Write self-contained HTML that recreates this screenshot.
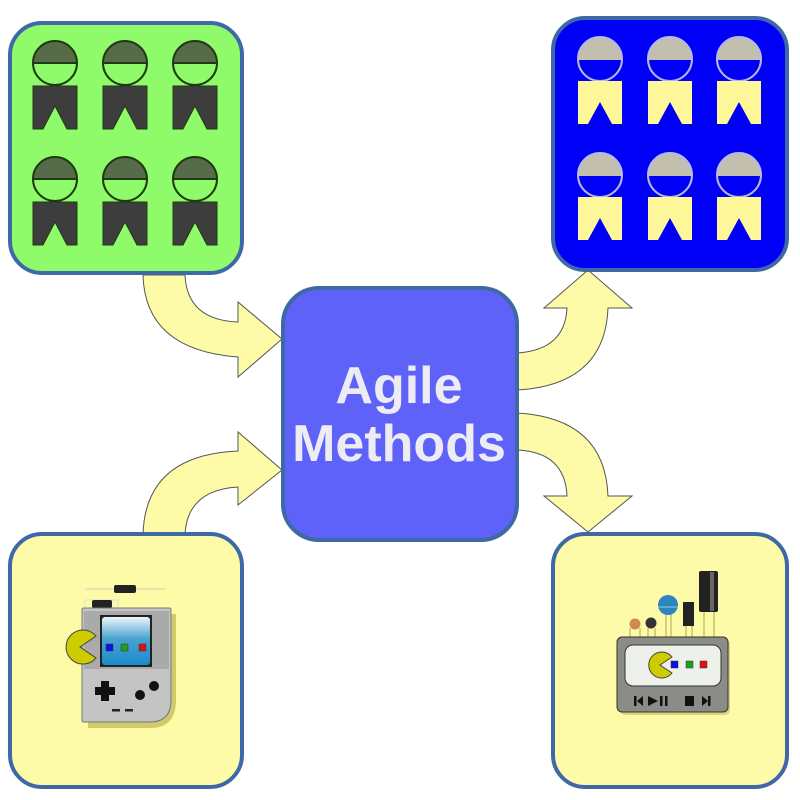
<!DOCTYPE html>
<html><head><style>html,body{margin:0;padding:0;background:#fff}svg{display:block}</style></head>
<body>
<svg width="800" height="800" viewBox="0 0 800 800" xmlns="http://www.w3.org/2000/svg">
<defs>
<g id="pg">
  <path d="M-22,0 A22,22 0 0 1 22,0 Z" fill="#566b48"/>
  <circle cx="0" cy="0" r="22" fill="none" stroke="#1e3a12" stroke-width="2"/>
  <line x1="-22" y1="0" x2="22" y2="0" stroke="#1e3a12" stroke-width="2"/>
  <path d="M-22,23 H22 V66 H12 L0,43 L-12,66 H-22 Z" fill="#3d3d3d" stroke="#1e3a12" stroke-width="1"/>
</g>
<g id="pb">
  <path d="M-22,0 A22,22 0 0 1 22,0 Z" fill="#c2bfae"/>
  <circle cx="0" cy="0" r="22" fill="none" stroke="#b8b8e8" stroke-width="2"/>
  <line x1="-22" y1="0" x2="22" y2="0" stroke="#c2bfae" stroke-width="2"/>
  <path d="M-22,22 H22 V65 H12 L0,43 L-12,65 H-22 Z" fill="#fdf79a"/>
</g>
<linearGradient id="scr" x1="0" y1="0" x2="0" y2="1"><stop offset="0" stop-color="#eef6fa"/><stop offset="0.45" stop-color="#4aa3d0"/><stop offset="1" stop-color="#1b8ccc"/></linearGradient>
</defs>

<g fill="#fdfaa8" stroke="#555" stroke-width="1">
  <path d="M143,275 Q145,350 238,357 V377 L282,339 L238,302 V322 Q187,320 185,275 Z"/>
  <path d="M143,535 Q145,455 238,451 V432 L282,470 L238,505 V487 Q187,490 185,535 Z"/>
  <path d="M517,390 Q605,385 608,308 H632 L588,270 L544,308 H567 Q565,350 517,353 Z"/>
  <path d="M517,413 Q605,418 608,496 H632 L588,532 L544,496 H567 Q565,452 517,450 Z"/>
</g>

<rect x="10" y="23" width="232" height="250" rx="32" fill="#8ffb6a" stroke="#3e68a6" stroke-width="4"/>
<rect x="553" y="18" width="234" height="252" rx="32" fill="#0000f6" stroke="#3e68a6" stroke-width="4"/>
<rect x="10" y="534" width="232" height="253" rx="32" fill="#fdfaa8" stroke="#3e68a6" stroke-width="4"/>
<rect x="553" y="534" width="234" height="253" rx="32" fill="#fdfaa8" stroke="#3e68a6" stroke-width="4"/>
<rect x="283" y="288" width="234" height="252" rx="36" fill="#5e62f8" stroke="#3e68a6" stroke-width="4"/>
<text x="399" y="403" text-anchor="middle" font-family="Liberation Sans, sans-serif" font-weight="bold" font-size="52" fill="#ececf2">Agile</text>
<text x="399" y="461" text-anchor="middle" font-family="Liberation Sans, sans-serif" font-weight="bold" font-size="52" fill="#ececf2">Methods</text>

<use href="#pg" x="55" y="63"/><use href="#pg" x="125" y="63"/><use href="#pg" x="195" y="63"/>
<use href="#pg" x="55" y="179"/><use href="#pg" x="125" y="179"/><use href="#pg" x="195" y="179"/>
<use href="#pb" x="600" y="59"/><use href="#pb" x="670" y="59"/><use href="#pb" x="739" y="59"/>
<use href="#pb" x="600" y="175"/><use href="#pb" x="670" y="175"/><use href="#pb" x="739" y="175"/>

<line x1="85" y1="589" x2="165" y2="589" stroke="#ccc" stroke-width="1"/>
<rect x="114" y="585" width="22" height="8" rx="2" fill="#222"/>
<path d="M85,608 V600 H118 V608" fill="none" stroke="#ddd"/>
<rect x="92" y="600" width="20" height="8" rx="2" fill="#222"/>
<path d="M88,614 H176 V700 Q176,728 150,728 H88 Z" fill="#cfcb6a"/>
<path d="M82,610 Q82,608 84,608 H169 Q171,608 171,610 V700 Q171,722 150,722 H84 Q82,722 82,720 Z" fill="#c4c4c4" stroke="#777"/>
<rect x="84" y="611" width="85" height="58" fill="#aaa"/>
<rect x="100" y="615" width="52" height="52" fill="#222"/>
<rect x="102" y="617" width="48" height="48" rx="3" fill="url(#scr)"/>
<rect x="106" y="644" width="7" height="7" fill="#1010e0" stroke="#333" stroke-width="0.5"/>
<rect x="121" y="644" width="7" height="7" fill="#20a020" stroke="#333" stroke-width="0.5"/>
<rect x="139" y="644" width="7" height="7" fill="#e01010" stroke="#333" stroke-width="0.5"/>
<path d="M80,647 L96,636 A17,17 0 1 0 96,658 Z" fill="#cccc00" stroke="#444"/>
<path d="M101,681 h8 v6 h6 v8 h-6 v6 h-8 v-6 h-6 v-8 h6 Z" fill="#111"/>
<circle cx="140" cy="695" r="5" fill="#111"/><circle cx="154" cy="686" r="5" fill="#111"/>
<rect x="112" y="709" width="8" height="2.5" fill="#222"/><rect x="125" y="709" width="8" height="2.5" fill="#222"/>

<g stroke="#b8a050" stroke-width="1">
<line x1="630" y1="628" x2="630" y2="637"/><line x1="640" y1="628" x2="640" y2="637"/>
<line x1="648" y1="628" x2="648" y2="637"/><line x1="655" y1="628" x2="655" y2="637"/>
<line x1="666" y1="612" x2="666" y2="637"/><line x1="671" y1="612" x2="671" y2="637"/>
<line x1="686" y1="625" x2="686" y2="637"/><line x1="692" y1="625" x2="692" y2="637"/>
<line x1="704" y1="611" x2="704" y2="637"/><line x1="714" y1="611" x2="714" y2="637"/>
</g>
<circle cx="635" cy="624" r="5.5" fill="#d08a50"/>
<circle cx="651" cy="623" r="5.5" fill="#333"/>
<circle cx="668" cy="605" r="10" fill="#2b86c0"/><line x1="658" y1="607" x2="678" y2="607" stroke="#9cd" stroke-width="1"/>
<rect x="683" y="602" width="11" height="24" fill="#222"/>
<rect x="699" y="571" width="19" height="41" rx="2" fill="#222"/><rect x="710" y="572" width="4" height="39" fill="#666"/>
<rect x="620" y="640" width="110" height="75" rx="5" fill="#d0cc70" opacity="0.8"/>
<rect x="617" y="637" width="111" height="75" rx="5" fill="#8a8c88" stroke="#333"/>
<rect x="625" y="645" width="96" height="41" rx="8" fill="#eef0ea" stroke="#333"/>
<path d="M660,665 L672,657 A13,13 0 1 0 672,673 Z" fill="#cccc00" stroke="#444"/>
<rect x="671" y="661" width="7" height="7" fill="#1010e0" stroke="#333" stroke-width="0.5"/>
<rect x="686" y="661" width="7" height="7" fill="#20a020" stroke="#333" stroke-width="0.5"/>
<rect x="700" y="661" width="7" height="7" fill="#e01010" stroke="#333" stroke-width="0.5"/>
<g fill="#111">
<rect x="634" y="696" width="2.5" height="10"/><path d="M643,696 L637,701 L643,706 Z"/>
<path d="M648,696 L658,701 L648,706 Z"/>
<rect x="660" y="696" width="2.5" height="10"/><rect x="665" y="696" width="2.5" height="10"/>
<rect x="685" y="696" width="9" height="10"/>
<path d="M702,696 L708,701 L702,706 Z"/><rect x="708" y="696" width="2.5" height="10"/>
</g>
</svg>
</body></html>
